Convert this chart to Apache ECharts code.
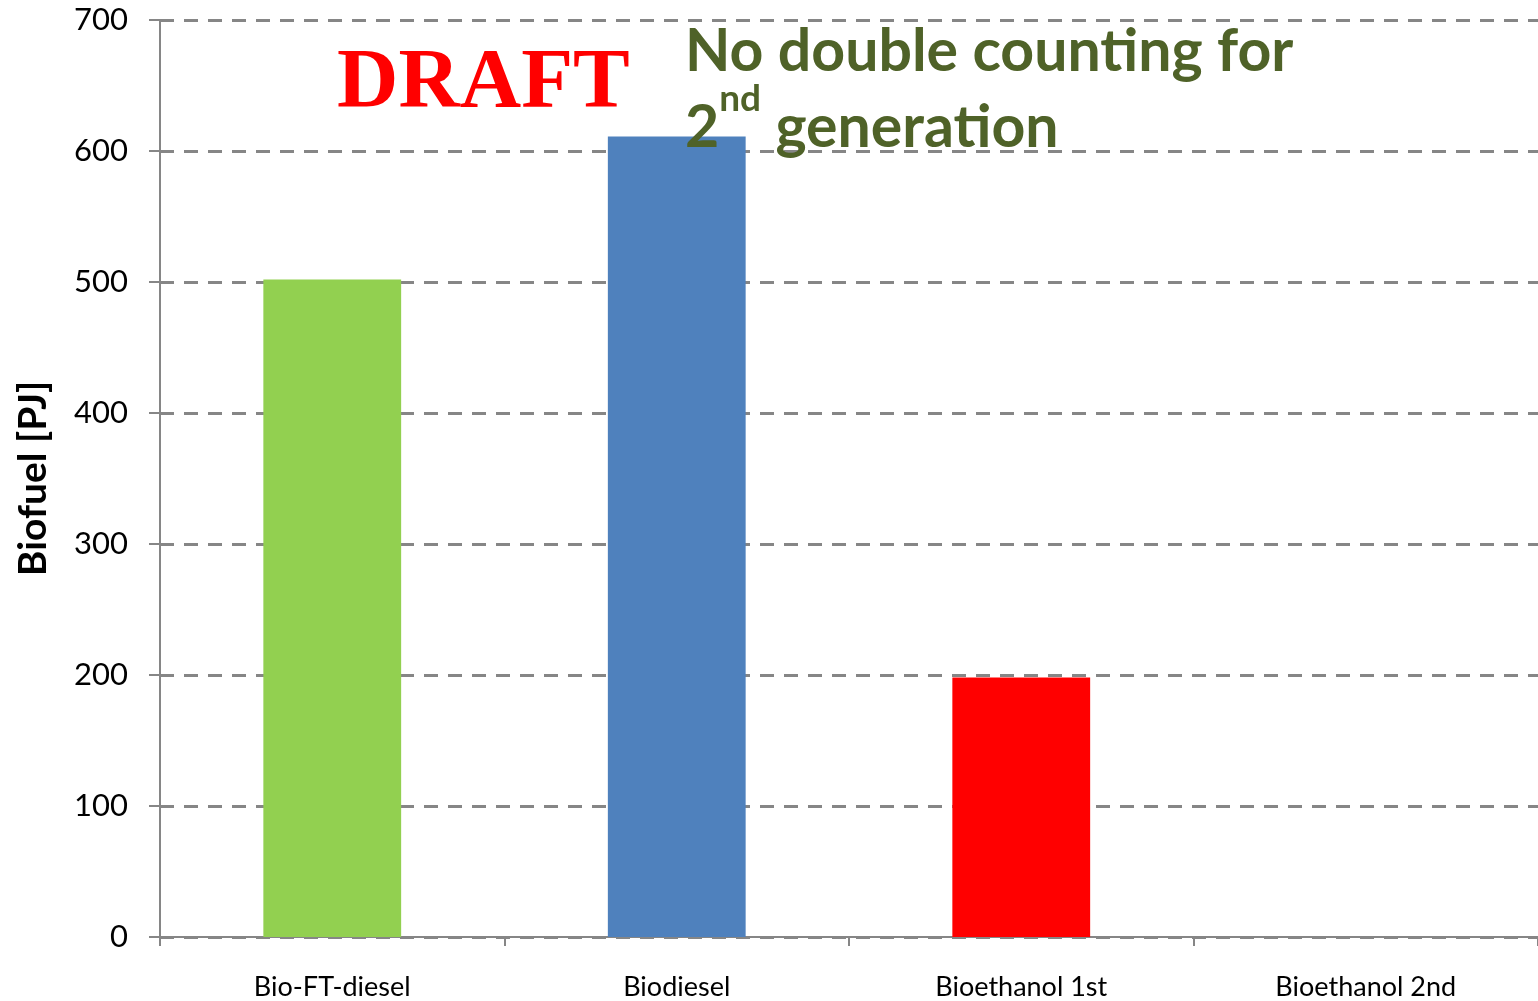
<!DOCTYPE html>
<html>
<head>
<meta charset="utf-8">
<script src="https://cdn.jsdelivr.net/npm/echarts@6/dist/echarts.min.js"></script>
<style>
html,body{margin:0;padding:0;background:#fff;}
#chart{width:1538px;height:1001px;}
</style>
</head>
<body>
<div id="chart"></div>
<script>
const categories = ['Bio-FT-diesel', 'Biodiesel', 'Bioethanol 1st', 'Bioethanol 2nd'];
const values = [502, 611, 198, 0];
const barColors = ['#92D050', '#4F81BD', '#FF0000', '#F79646'];
const yTicks = [0, 100, 200, 300, 400, 500, 600, 700];

const chart = echarts.init(document.getElementById('chart'));
chart.setOption({
  animation: false,
  grid: { left: 160, right: 0, top: 20, bottom: 64, containLabel: false },
  xAxis: {
    type: 'category',
    data: categories,
    axisLine: { lineStyle: { color: '#868686', width: 2 } },
    axisTick: { show: true, length: 9, lineStyle: { color: '#868686', width: 2 } },
    axisLabel: { color: '#000', fontFamily: 'Lato', fontSize: 27, margin: 37 }
  },
  yAxis: {
    type: 'value',
    min: yTicks[0],
    max: yTicks[yTicks.length - 1],
    interval: 100,
    name: 'Biofuel [PJ]',
    nameLocation: 'middle',
    nameGap: 107,
    nameTextStyle: { color: '#000', fontFamily: 'Lato', fontWeight: 'bold', fontSize: 39 },
    axisLine: { show: true, lineStyle: { color: '#868686', width: 2 } },
    axisTick: { show: true, length: 11, lineStyle: { color: '#868686', width: 2 } },
    axisLabel: { color: '#000', fontFamily: 'Lato', fontSize: 31, margin: 32 },
    splitLine: { show: true, lineStyle: { color: '#868686', width: 3, type: [14, 10] } }
  },
  series: [{
    type: 'bar',
    data: values.map((v, i) => ({ value: v, itemStyle: { color: barColors[i] } })),
    barWidth: '40%'
  }],
  graphic: [
    {
      type: 'text', left: 337, top: 43, z: 100,
      style: { text: 'DRAFT', fill: '#FF0000', font: 'bold 85px "Liberation Serif"' }
    },
    {
      type: 'text', left: 685, top: 22, z: 100,
      style: {
        text: '{a|No double counting for}\n{a|2}{s|nd}{a| generation}',
        rich: {
          a: { fill: '#4F6228', fontFamily: 'Lato', fontWeight: 'bold', fontSize: 59, lineHeight: 76, verticalAlign: 'bottom' },
          s: { fill: '#4F6228', fontFamily: 'Lato', fontWeight: 'bold', fontSize: 37, lineHeight: 76, verticalAlign: 'top', padding: [0, 0, 14, 0] }
        }
      }
    }
  ]
});
</script>
</body>
</html>
